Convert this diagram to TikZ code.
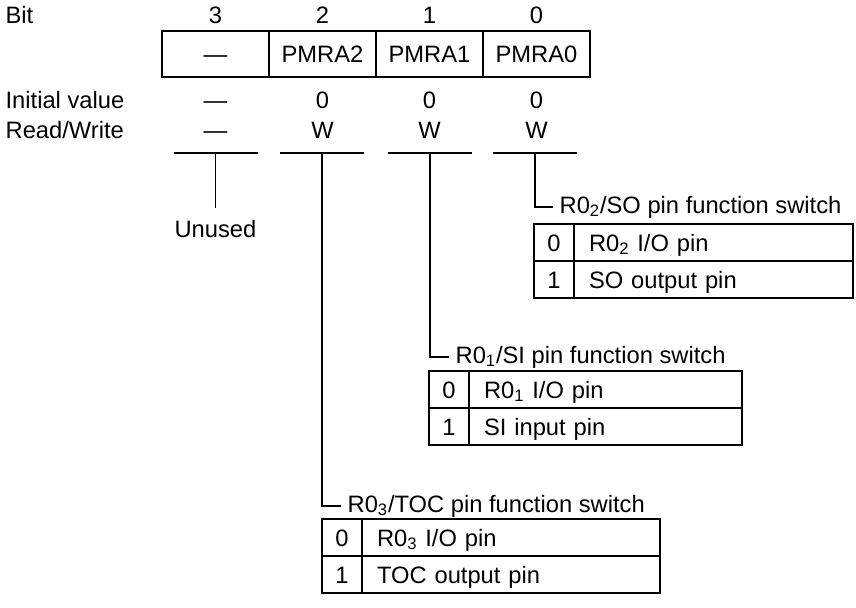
\documentclass[tikz,border=0pt]{standalone}
\usepackage{fontspec}
\setmainfont{Liberation Sans}
\usepackage{tikz}
\usetikzlibrary{positioning}

\begin{document}
\begin{tikzpicture}[x=0.2mm, y=-0.2mm, font=\fontsize{13.5}{16}\selectfont, line width=0.25mm,
  regcell/.style={rectangle,draw,outer sep=0pt,inner sep=0pt,
                  minimum width=21.4mm,minimum height=9.2mm,text height=3.8mm,text depth=0.4mm},
  lbl/.style={anchor=base west,inner sep=0pt},
  val/.style={anchor=base,inner sep=0pt},
  keycell/.style={rectangle,draw,outer sep=0pt,inner sep=0pt,
                  minimum width=8mm,minimum height=7.4mm,text height=3.8mm,text depth=0.4mm},
  optcell/.style={rectangle,draw,outer sep=0pt,inner xsep=3mm,inner ysep=0pt,
                  minimum height=7.4mm,text width=#1,align=left,text height=3.8mm,text depth=0.4mm},
  swtitle/.style={anchor=west,inner sep=1.2mm}]
  \useasboundingbox (0,0) rectangle (856,607);

  % --- bit numbers ---
  \node[lbl] (bit) at (5,23.5) {Bit};
  \foreach \b/\x in {3/215.5,2/322.5,1/429.5,0/536.5}
    \node[val] (n\b) at (\x,23.5) {\b};

  % --- register ---
  \node[regcell] (r3) at (215.5,54) {---};
  \node[regcell,right=0pt of r3] (r2) {PMRA2};
  \node[regcell,right=0pt of r2] (r1) {PMRA1};
  \node[regcell,right=0pt of r1] (r0) {PMRA0};

  % --- initial value / read-write ---
  \node[lbl] (init) at (5,108) {Initial value};
  \foreach \b/\x/\t in {3/215.5/---,2/322.5/0,1/429.5/0,0/536.5/0}
    \node[val] (i\b) at (\x,108) {\t};
  \node[lbl] (rw) at (5,138) {Read/Write};
  \foreach \b/\x/\t in {3/215.5/---,2/322.5/W,1/429.5/W,0/536.5/W}
    \node[val] (rw\b) at (\x,138) {\t};

  % --- underlines ---
  \foreach \b/\x in {3/215.5,2/322,1/430,0/535} {
    \coordinate (u\b) at (\x,153);
    \draw (u\b) ++(-42,0) -- ++(84,0);
  }

  % --- bit 3 ---
  \node[inner xsep=0pt,inner ysep=2.4mm] (unused) at (215.5,229) {Unused};
  \draw (u3) -- (unused);

  % --- bit 0 ---
  \node[swtitle] (t0) at (553,207) {R0\textsubscript{2}/SO pin function switch};
  \draw (u0) |- (t0.west);
  \node[keycell] (so0) at (554,242.5) {0};
  \node[optcell=49.8mm,right=0pt of so0] (so0t) {R0\textsubscript{2} I/O pin};
  \node[keycell,below=0pt of so0] (so1) {1};
  \node[optcell=49.8mm,right=0pt of so1] (so1t) {SO output pin};

  % --- bit 1 ---
  \node[swtitle] (t1) at (449,357) {R0\textsubscript{1}/SI pin function switch};
  \draw (u1) |- (t1.west);
  \node[keycell] (si0) at (449,389.5) {0};
  \node[optcell=48.6mm,right=0pt of si0] (si0t) {R0\textsubscript{1} I/O pin};
  \node[keycell,below=0pt of si0] (si1) {1};
  \node[optcell=48.6mm,right=0pt of si1] (si1t) {SI input pin};

  % --- bit 2 ---
  \node[swtitle] (t2) at (341,506) {R0\textsubscript{3}/TOC pin function switch};
  \draw (u2) |- (t2.west);
  \node[keycell] (toc0) at (342,537.5) {0};
  \node[optcell=53.6mm,right=0pt of toc0] (toc0t) {R0\textsubscript{3} I/O pin};
  \node[keycell,below=0pt of toc0] (toc1) {1};
  \node[optcell=53.6mm,right=0pt of toc1] (toc1t) {TOC output pin};
\end{tikzpicture}
\end{document}
